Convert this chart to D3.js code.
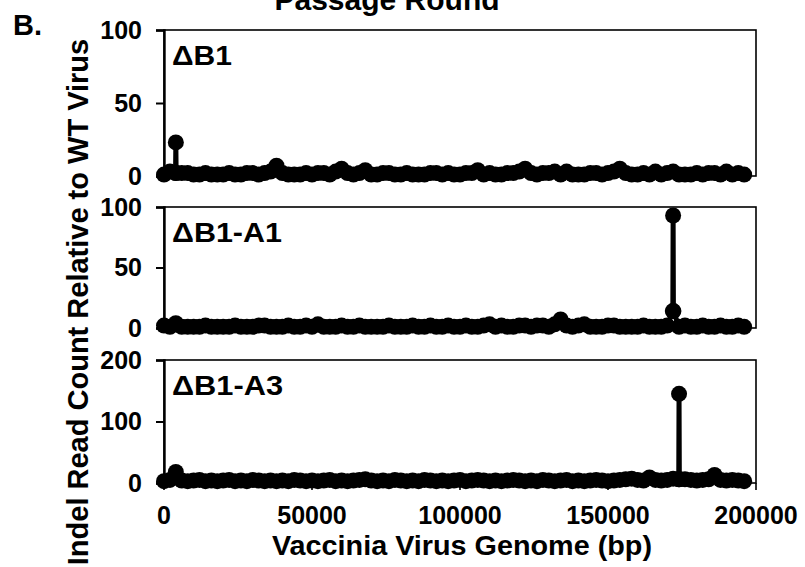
<!DOCTYPE html>
<html><head><meta charset="utf-8">
<script src="https://cdn.jsdelivr.net/npm/d3@7"></script>
<style>
body{margin:0;background:#fff}
svg{display:block}
text{font-family:"Liberation Sans",Arial,sans-serif;font-weight:bold;fill:#000}
</style>
</head><body>
<svg id="c" width="805" height="567"></svg>
<script>
// ---- data ----
const positions = [0,2000,4000,6000,8000,10000,12000,14000,16000,18000,
20000,22000,24000,26000,28000,30000,32000,34000,36000,38000,
40000,42000,44000,46000,48000,50000,52000,54000,56000,58000,
60000,62000,64000,66000,68000,70000,72000,74000,76000,78000,
80000,82000,84000,86000,88000,90000,92000,94000,96000,98000,
100000,102000,104000,106000,108000,110000,112000,114000,116000,118000,
120000,122000,124000,126000,128000,130000,132000,134000,136000,138000,
140000,142000,144000,146000,148000,150000,152000,154000,156000,158000,
160000,162000,164000,166000,168000,170000,172000,174000,176000,178000,
180000,182000,184000,186000,188000,190000,192000,194000,196000];

const valuesB1 = [1,3,23,2,2,1,1,2,1,1,
1,2,1,1,2,2,1,2,3,7,
2,1,1,1,2,1,2,2,1,3,
5,2,1,2,4,1,1,2,2,1,
1,2,1,1,1,2,2,1,2,1,
1,2,2,4,1,2,1,1,2,2,
3,5,2,1,2,2,3,1,3,1,
1,1,2,2,1,2,3,5,2,1,
1,2,1,3,1,2,3,1,1,1,
2,1,2,2,1,3,1,2,1];
const extraB1 = [[3900,2],[4100,2]];

const valuesA1 = [2,1,4,1,1,1,1,2,1,1,
1,1,2,1,1,1,2,2,1,1,
1,2,1,1,2,1,3,1,1,1,
2,1,1,2,1,1,1,1,2,1,
1,1,2,1,1,2,1,1,2,1,
1,2,1,1,2,3,1,2,1,1,
2,2,1,2,2,1,3,7,2,1,
2,3,1,1,1,2,2,1,1,1,
1,2,1,1,1,2,93,1,2,1,
1,2,1,1,2,1,1,2,1];
const extraA1 = [[171900,14],[172100,14]];

const valuesA3 = [3,5,18,4,3,4,5,3,4,3,
4,5,3,4,3,5,4,3,4,3,
4,3,5,4,3,4,3,4,5,3,
4,3,4,5,6,4,3,4,3,5,
4,3,4,3,5,4,3,4,3,4,
5,3,4,5,4,3,4,3,4,5,
4,3,4,3,5,4,3,4,5,3,
4,3,4,5,4,3,4,5,6,7,
5,4,9,5,4,5,7,145,6,5,
4,5,6,13,5,4,5,4,3];
const extraA3 = [[173900,6],[174100,6]];

const panelNames = ["\u0394B1","\u0394B1-A1","\u0394B1-A3"];
const yMax = [100,100,200];
const yTicks = [[0,50,100],[0,50,100],[0,100,200]];
const xTicks = [0,50000,100000,150000,200000];

// ---- layout ----
const svg = d3.select("#c");
const x = d3.scaleLinear().domain([0,200000]).range([164,756]);
const panelTop = [30,207,360];
const panelBottom = [176,328,483];
const labelWidths = [60,110,111];

const series = [
  {vals: valuesB1, extra: extraB1},
  {vals: valuesA1, extra: extraA1},
  {vals: valuesA3, extra: extraA3}
];

series.forEach((s,k)=>{
  const y = d3.scaleLinear().domain([0,yMax[k]]).range([panelBottom[k],panelTop[k]]);
  const pts = positions.map((p,i)=>[p,s.vals[i]]).concat(s.extra).sort((a,b)=>a[0]-b[0]);
  const g = svg.append("g");
  g.append("rect").attr("x",x(0)).attr("y",panelTop[k])
    .attr("width",x(200000)-x(0)).attr("height",panelBottom[k]-panelTop[k])
    .attr("fill","none").attr("stroke","#000").attr("stroke-width",1.6);
  const ax = g.append("g").attr("transform",`translate(${x(0)},0)`)
    .call(d3.axisLeft(y).tickValues(yTicks[k]).tickSize(8).tickPadding(14).tickFormat(d3.format("d")));
  ax.select(".domain").attr("stroke-width",2.4);
  ax.selectAll(".tick line").attr("stroke-width",2);
  ax.selectAll(".tick text").style("font-size","25px").style("font-family","'Liberation Sans',Arial,sans-serif").style("font-weight","bold").attr("fill","#000");
  g.append("path").datum(pts)
    .attr("d",d3.line().x(d=>x(d[0])).y(d=>y(d[1])))
    .attr("fill","none").attr("stroke","#000").attr("stroke-width",5).attr("stroke-linejoin","round");
  g.selectAll("circle").data(pts).join("circle")
    .attr("cx",d=>x(d[0])).attr("cy",d=>y(d[1])).attr("r",8).attr("fill","#000");
  g.append("text").attr("x",172).attr("y",panelTop[k]+35)
    .attr("textLength",labelWidths[k]).attr("lengthAdjust","spacingAndGlyphs")
    .style("font-size","27px").text(panelNames[k]);
  if(k===2){
    xTicks.forEach(t=>{
      g.append("line").attr("x1",x(t)).attr("x2",x(t)).attr("y1",panelBottom[k]).attr("y2",panelBottom[k]+7)
        .attr("stroke","#000").attr("stroke-width",1.6);
      g.append("text").attr("x",x(t)).attr("y",panelBottom[k]+41).attr("text-anchor","middle")
        .style("font-size","25px").text(t);
    });
  }
});

svg.append("text").attr("x",462).attr("y",555).attr("text-anchor","middle")
  .attr("textLength",380).attr("lengthAdjust","spacingAndGlyphs")
  .style("font-size","28px").text("Vaccinia Virus Genome (bp)");
svg.append("text").attr("transform","translate(88,302) rotate(-90)").attr("text-anchor","middle")
  .style("font-size","29px").text("Indel Read Count Relative to WT Virus");
svg.append("text").attr("x",13).attr("y",35).style("font-size","29px").text("B.");
svg.append("text").attr("x",387).attr("y",10).attr("text-anchor","middle")
  .style("font-size","30px").text("Passage Round");
</script>
</body></html>
